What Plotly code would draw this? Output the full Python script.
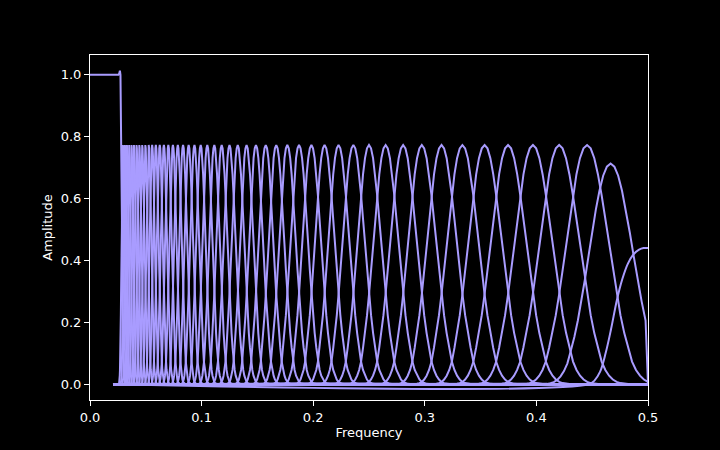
import plotly.graph_objects as go

# ---- data ----
# Centre frequencies of the band-pass filters (12 per octave), highest first
CENTERS = [0.4665, 0.4454, 0.4204, 0.3969, 0.3746, 0.3536, 0.3337, 0.3150,
           0.2973, 0.2806, 0.2649, 0.2500, 0.2360, 0.2227, 0.2102, 0.1984,
           0.1873, 0.1768, 0.1669, 0.1575, 0.1487, 0.1403, 0.1324, 0.1250,
           0.1180, 0.1114, 0.1051, 0.0992, 0.0936, 0.0884, 0.0834, 0.0787,
           0.0743, 0.0702, 0.0662, 0.0625, 0.0590, 0.0557, 0.0526, 0.0496,
           0.0468, 0.0442, 0.0417, 0.0394, 0.0372, 0.0351, 0.0331, 0.0313,
           0.0295]
PEAKS = [0.713] + [0.773] * 48

# Normalised band shape: offset in semitones from the centre -> relative amplitude
SHAPE_W = [-2.5, -2.375, -2.25, -2.125, -2.0, -1.875, -1.75, -1.625, -1.5,
           -1.375, -1.25, -1.125, -1.0, -0.875, -0.75, -0.625, -0.5, -0.375,
           -0.25, -0.125, 0.0, 0.125, 0.25, 0.375, 0.5, 0.625, 0.75, 0.875,
           1.0, 1.125, 1.25, 1.375, 1.5, 1.625, 1.75, 1.875, 2.0, 2.125, 2.25,
           2.375, 2.5]
SHAPE_A = [0.0, 0.001, 0.002, 0.005, 0.010, 0.020, 0.036, 0.060, 0.095,
           0.153, 0.214, 0.289, 0.377, 0.476, 0.582, 0.689, 0.790, 0.877,
           0.945, 0.986, 1.0, 0.986, 0.945, 0.877, 0.790, 0.689, 0.582, 0.476,
           0.377, 0.289, 0.214, 0.153, 0.095, 0.060, 0.036, 0.020, 0.010,
           0.005, 0.002, 0.001, 0.0]

# Top (Nyquist) band, read directly
TOP_F = [0.0206, 0.4470, 0.4520, 0.4570, 0.4620, 0.4670, 0.4720, 0.4770,
         0.4820, 0.4870, 0.4920, 0.4960, 0.5000]
TOP_A = [0.0, 0.0, 0.012, 0.04, 0.10, 0.18, 0.27, 0.34, 0.39, 0.42, 0.435,
         0.44, 0.44]

# Low-pass filter
LOW_F = [0.0, 0.0255, 0.0262, 0.0268, 0.0273, 0.0277, 0.0281, 0.0287,
         0.0294, 0.0300, 0.0310, 0.0320]
LOW_A = [1.0, 1.0, 1.004, 1.013, 1.0, 0.9, 0.74, 0.5, 0.25, 0.1, 0.02, 0.0]

F_START = 0.0206
F_END = 0.5

COLOR = "#a99cff"

fig = go.Figure()

for c, p in zip(CENTERS, PEAKS):
    xs = [F_START]
    ys = [0.0]
    for w, a in zip(SHAPE_W, SHAPE_A):
        f = c * 2 ** (w / 12.0)
        if f <= F_END:
            xs.append(f)
            ys.append(a * p)
    if xs[-1] < F_END:
        xs.append(F_END)
        ys.append(0.0)
    fig.add_trace(go.Scatter(x=xs, y=ys, mode="lines",
                             line=dict(color=COLOR, width=2),
                             showlegend=False, hoverinfo="skip"))

fig.add_trace(go.Scatter(x=TOP_F, y=TOP_A, mode="lines",
                         line=dict(color=COLOR, width=2, shape="spline"),
                         showlegend=False, hoverinfo="skip"))
fig.add_trace(go.Scatter(x=LOW_F, y=LOW_A, mode="lines",
                         line=dict(color=COLOR, width=2),
                         showlegend=False, hoverinfo="skip"))

axis_common = dict(
    showgrid=False, zeroline=False, showline=True, mirror=True,
    linecolor="white", linewidth=1, ticks="outside", ticklen=5,
    tickwidth=1, tickcolor="white", tickformat=".1f",
    tickfont=dict(family="DejaVu Sans", size=13, color="white"),
    automargin=False,
)

fig.update_layout(
    width=720, height=450,
    paper_bgcolor="black", plot_bgcolor="black",
    margin=dict(l=90, r=72, t=55, b=50),
    font=dict(family="DejaVu Sans", size=13, color="white"),
    xaxis=dict(range=[0, 0.5], dtick=0.1,
               title=dict(text="Frequency", standoff=4,
                          font=dict(family="DejaVu Sans", size=13, color="white")),
               **axis_common),
    yaxis=dict(range=[-0.0507, 1.0637], dtick=0.2,
               title=dict(text="Amplitude", standoff=5,
                          font=dict(family="DejaVu Sans", size=13, color="white")),
               **axis_common),
)

fig.write_html("out.html",
               config={"displayModeBar": False},
               post_script="document.body.style.margin='0';document.body.style.background='black';")
